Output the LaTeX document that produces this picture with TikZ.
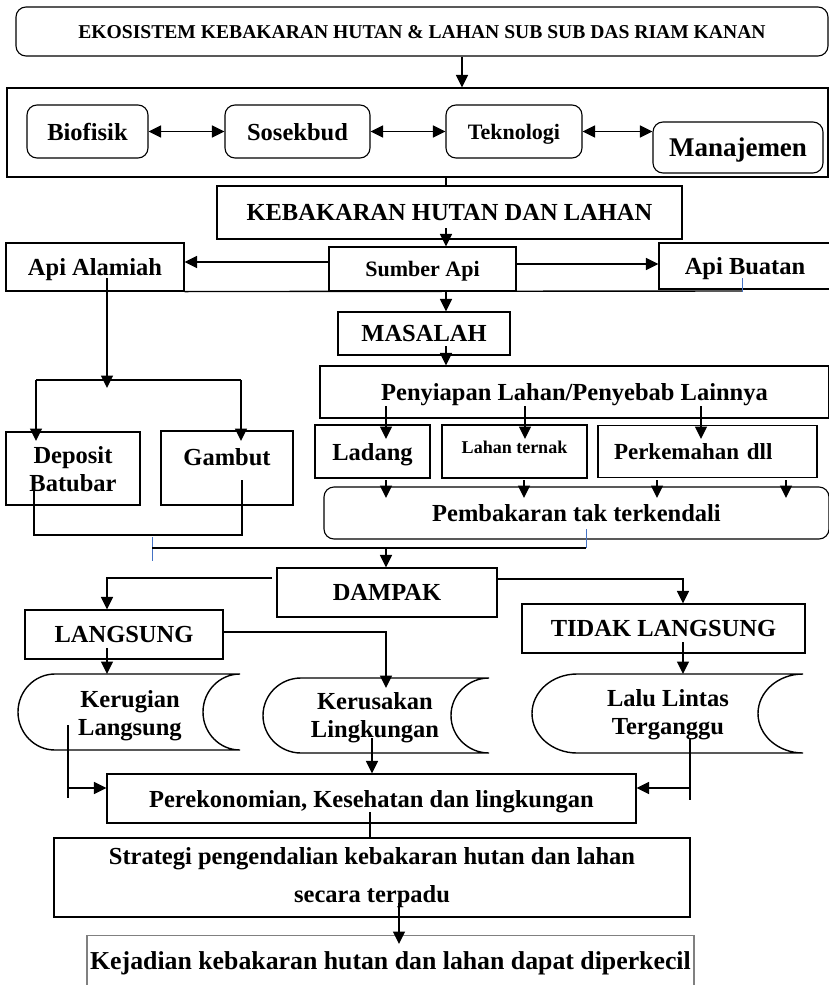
\documentclass[tikz,border=0pt]{standalone}
\usepackage{fontspec}
\setmainfont{Liberation Serif}
\usetikzlibrary{arrows.meta}

\definecolor{tickblue}{RGB}{68,114,196}

% data-storage outline: left, right, top, bottom, bulge
\newcommand{\storage}[5]{%
  \draw[link] ({#1+#5},#3) -- (#2,#3)
    .. controls ({#2-0.552*#5},#3) and ({#2-#5},{(#3+#4)/2-0.276*(#4-#3)}) .. ({#2-#5},{(#3+#4)/2})
    .. controls ({#2-#5},{(#3+#4)/2+0.276*(#4-#3)}) and ({#2-0.552*#5},#4) .. (#2,#4)
    -- ({#1+#5},#4)
    .. controls ({#1+0.448*#5},#4) and (#1,{(#3+#4)/2+0.276*(#4-#3)}) .. (#1,{(#3+#4)/2})
    .. controls (#1,{(#3+#4)/2-0.276*(#4-#3)}) and ({#1+0.448*#5},#3) .. ({#1+#5},#3) -- cycle;}

\begin{document}
\begin{tikzpicture}[x=1pt,y=-1pt,
  txt/.style={align=center, inner sep=0pt, text depth=0pt, font=\fontsize{24.5}{28}\selectfont\bfseries},
  box/.style={txt, draw, line width=1.1pt},
  rbox/.style={box, rounded corners=10pt},
  link/.style={line width=1.4pt},
  arr/.style={link, -{Triangle[length=12.5pt,width=12pt]}},
  darr/.style={link, {Triangle[length=12.5pt,width=12pt]}-{Triangle[length=12.5pt,width=12pt]}},
  tick/.style={line width=0.9pt, tickblue}]
\useasboundingbox (0,0) rectangle (829,985);

  % Top: ecosystem and its four components
  \node[rbox, minimum width=812, minimum height=49, font=\fontsize{19.6}{24}\selectfont\bfseries] (title) at (422,31.5)
    {EKOSISTEM KEBAKARAN HUTAN \& LAHAN SUB SUB DAS RIAM KANAN};
  \node[box, minimum width=821, minimum height=89] (frame) at (417.5,132.5) {};
  \node[rbox, minimum width=121, minimum height=53] (bio) at (87.5,131.5) {Biofisik};
  \node[rbox, minimum width=145, minimum height=53] (sos) at (297.5,131.5) {Sosekbud};
  \node[rbox, minimum width=136, minimum height=53, font=\fontsize{22}{26}\selectfont\bfseries] (tek) at (514,131.5) {Teknologi};
  \node[rbox, minimum width=170, minimum height=51, font=\fontsize{27}{30}\selectfont\bfseries] (man) at (738,147.5) {Manajemen};

  \draw[arr] (title.south -| 462,0) -- (frame.north -| 462,0);
  \draw[darr] (bio) -- (sos);
  \draw[darr] (sos) -- (tek);
  \draw[darr] (tek.east) -- (tek.east -| man.west);

  % Fire and its sources
  \node[box, minimum width=465, minimum height=53] (keb) at (449.5,212.5) {KEBAKARAN HUTAN DAN LAHAN};
  \node[box, minimum width=178, minimum height=48] (alam) at (95,267) {Api Alamiah};
  \node[box, minimum width=187, minimum height=44, font=\fontsize{22}{26}\selectfont\bfseries] (sumber) at (422.5,269) {Sumber Api};
  \node[box, minimum width=172, minimum height=46] (buat) at (745,266) {Api Buatan};

  \draw[link] (frame.south -| 446,0) -- (keb.north -| 446,0);
  \draw[arr] (446,228) -- (sumber.north -| 446,0);
  \draw[arr] (sumber.west |- 0,262) -- (alam.east |- 0,262);
  \draw[arr] (sumber.east |- 0,264) -- (buat.west |- 0,264);
  \draw[link] (alam.south east) -- (742,291);
  \draw[tick] (742,278) -- (742,292);

  % Natural fire branch
  \node[box, minimum width=134, minimum height=73] (deposit) at (73,468.5) {Deposit\\Batubar};
  \node[box, minimum width=132, minimum height=74, text height=17pt, text depth=23pt] (gambut) at (227,468) {Gambut};

  \draw[arr] (107,278) -- (107,388);
  \draw[link] (36,380) -- (241,380);
  \draw[arr] (36,380) -- (36,441);
  \draw[arr] (241,380) -- (241,441);
  \draw[link] (34,485) -- (34,535) -- (242,535) -- (242,480);

  % Problem branch
  \node[box, minimum width=172, minimum height=43] (masalah) at (424,333.5) {MASALAH};
  \node[box, minimum width=509, minimum height=52] (penyiapan) at (574.5,392) {Penyiapan Lahan/Penyebab Lainnya};
  \node[box, minimum width=115, minimum height=53] (ladang) at (372.5,451.5) {Ladang};
  \node[box, minimum width=145, minimum height=53, text depth=8pt, font=\fontsize{18}{22}\selectfont\bfseries] (ternak) at (514.5,451.5) {Lahan ternak};
  \node[box, minimum width=219, minimum height=52, text width=187, align=left, font=\fontsize{23}{27}\selectfont\bfseries] (kemah) at (707.5,451.5) {Perkemahan dll};
  \node[rbox, minimum width=505, minimum height=52] (bakar) at (576.5,513) {Pembakaran tak terkendali};

  \draw[arr] (sumber.south -| 446,0) -- (masalah.north -| 446,0);
  \draw[arr] (446,346) -- (penyiapan.north -| 446,0);
  \foreach \xa in {386,525,701}{
    \draw[arr] (\xa,406) -- (\xa,439);
  }
  \foreach \xb in {386,524,657,786}{
    \draw[arr] (\xb,480) -- (\xb,498);
  }

  % Joining line to impact
  \node[box, minimum width=220, minimum height=49] (dampak) at (387,592.5) {DAMPAK};
  \draw[tick] (152,537) -- (152,561);
  \draw[tick] (586,529) -- (586,548);
  \draw[link] (152,548) -- (586,548);
  \draw[arr] (386,548) -- (dampak.north -| 386,0);

  % Direct / indirect impact
  \node[box, minimum width=198, minimum height=49] (langsung) at (124,634.5) {LANGSUNG};
  \node[box, minimum width=283, minimum height=49] (tidak) at (663.5,628.5) {TIDAK LANGSUNG};
  \draw[arr] (272,578) -| (langsung.north -| 107,0);
  \draw[arr] (dampak.east |- 0,579) -| (tidak.north -| 683,0);

  \storage{18}{240}{674}{750}{37}
  \storage{263}{489}{678}{753}{38}
  \storage{532}{803}{674}{753}{45}
  \node[txt] (rugi) at (130,713) {Kerugian\\Langsung};
  \node[txt] (rusak) at (375,715) {Kerusakan\\Lingkungan};
  \node[txt] (lalu) at (668,712) {Lalu Lintas\\Terganggu};

  \draw[arr] (107,648) -- (107,674);
  \draw[arr] (langsung.east |- 0,632) -| (386,688);
  \draw[arr] (683,642) -- (683,674);

  % Bottom: economy, strategy, result
  \node[box, minimum width=529, minimum height=49] (ekonomi) at (371.5,798.5) {Perekonomian, Kesehatan dan lingkungan};
  \node[box, minimum width=636, minimum height=79, text depth=6pt, font=\fontsize{24.5}{38}\selectfont\bfseries] (strategi) at (372,877.5)
    {Strategi pengendalian kebakaran hutan dan lahan\\secara terpadu};
  \node[box, draw=gray, minimum width=607, minimum height=50, font=\fontsize{25.8}{30}\selectfont\bfseries] (kejadian) at (390.5,960.5)
    {Kejadian kebakaran hutan dan lahan dapat diperkecil};

  \draw[link] (68,725) -- (68,798);
  \draw[arr] (68,788) -- (ekonomi.west |- 0,788);
  \draw[arr] (372,738) -- (ekonomi.north -| 372,0);
  \draw[link] (690,738) -- (690,800);
  \draw[arr] (690,788) -- (ekonomi.east |- 0,788);
  \draw[link] (370,812) -- (strategi.north -| 370,0);
  \draw[arr] (399,903) -- (399,944);
\end{tikzpicture}
\end{document}
